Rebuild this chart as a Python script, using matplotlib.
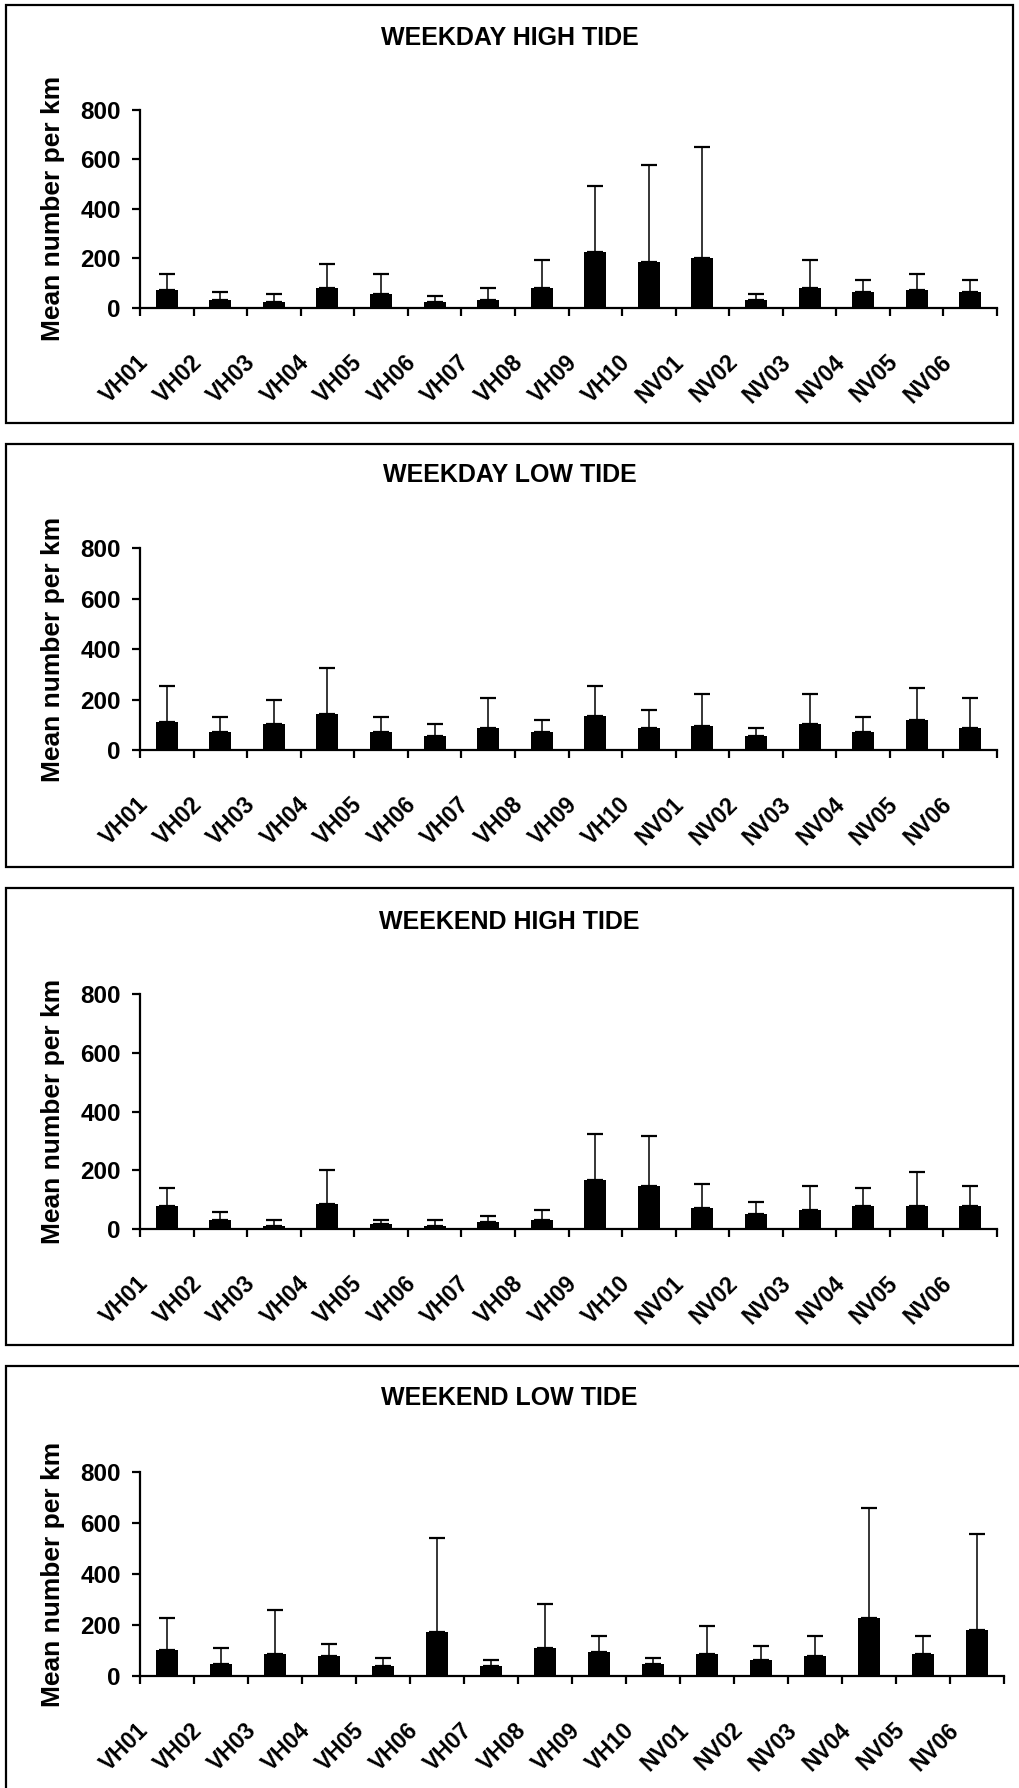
import matplotlib
matplotlib.use("Agg")
import matplotlib.pyplot as plt
import numpy as np
from matplotlib.patches import Rectangle
from matplotlib.transforms import ScaledTranslation

plt.rcParams["font.family"] = ["Liberation Sans", "DejaVu Sans"]
plt.rcParams["font.weight"] = "bold"

SITES = ["VH01", "VH02", "VH03", "VH04", "VH05", "VH06", "VH07", "VH08",
         "VH09", "VH10", "NV01", "NV02", "NV03", "NV04", "NV05", "NV06"]

WEEKDAY_HIGH_MEAN = [70, 30, 22, 78, 54, 22, 30, 78, 224, 184, 200, 30, 78, 62, 70, 62]
WEEKDAY_HIGH_SD = [65, 35, 32, 99, 82, 25, 51, 115, 269, 392, 449, 24, 117, 50, 65, 50]

WEEKDAY_LOW_MEAN = [111, 71, 103, 143, 71, 56, 87, 71, 135, 87, 95, 56, 103, 71, 119, 87]
WEEKDAY_LOW_SD = [144, 59, 97, 184, 59, 48, 121, 49, 120, 73, 128, 33, 120, 59, 128, 121]

WEEKEND_HIGH_MEAN = [79, 32, 11, 86, 18, 11, 25, 32, 168, 147, 73, 52, 66, 79, 79, 79]
WEEKEND_HIGH_SD = [63, 28, 22, 117, 15, 22, 20, 35, 157, 171, 82, 42, 82, 63, 117, 69]

WEEKEND_LOW_MEAN = [101, 46, 85, 77, 38, 172, 38, 109, 93, 46, 85, 62, 77, 227, 85, 180]
WEEKEND_LOW_SD = [126, 63, 175, 49, 32, 370, 25, 174, 64, 24, 112, 55, 80, 434, 72, 377]

YTICKS = [0, 200, 400, 600, 800]

W, H = 1019, 1788

# title, mean, sd, box top, box bottom, box right, y of 800, y of 0, title y, axis right (pixels)
panels = [
    ("WEEKDAY HIGH TIDE", WEEKDAY_HIGH_MEAN, WEEKDAY_HIGH_SD, 5, 423, 1013, 110, 307.7, 38, 997),
    ("WEEKDAY LOW TIDE", WEEKDAY_LOW_MEAN, WEEKDAY_LOW_SD, 444, 867, 1013, 548.3, 750, 475, 997),
    ("WEEKEND HIGH TIDE", WEEKEND_HIGH_MEAN, WEEKEND_HIGH_SD, 888, 1345, 1013, 994, 1229.3, 922, 997),
    ("WEEKEND LOW TIDE", WEEKEND_LOW_MEAN, WEEKEND_LOW_SD, 1366, 1800, 1030, 1472.3, 1675.7, 1398, 1004),
]

fig = plt.figure(figsize=(W / 100, H / 100), dpi=100)

for title, mean, sd, btop, bbot, bright, y800, y0, ty, xr in panels:
    fig.add_artist(Rectangle((6 / W, 1 - bbot / H), (bright - 6) / W, (bbot - btop) / H,
                             transform=fig.transFigure, fill=False, ec="black", lw=1.6))
    fig.text(0.5, 1 - ty / H, title, ha="center", va="center", fontsize=18, fontweight="bold")
    fig.text(53 / W, 1 - (y0 + y800) / 2 / H, "Mean number per km", rotation=90,
             ha="center", va="center", fontsize=19, fontweight="bold")

    ax = fig.add_axes([140 / W, 1 - y0 / H, (xr - 140) / W, (y0 - y800) / H])
    x = np.arange(len(SITES))
    ax.bar(x, mean, width=0.41, color="black")
    ax.errorbar(x, mean, yerr=[np.zeros(len(sd)), sd], fmt="none", ecolor="black",
                elinewidth=1.1, capsize=5.8, capthick=1.6)
    ax.set_xlim(-0.5, len(SITES) - 0.5)
    ax.set_ylim(0, 800)
    ax.spines["top"].set_visible(False)
    ax.spines["right"].set_visible(False)
    ax.spines["left"].set_linewidth(1.6)
    ax.spines["bottom"].set_linewidth(1.6)

    ax.set_yticks(YTICKS)
    ax.tick_params(axis="y", direction="out", length=5.8, width=1.6, pad=8, labelsize=17.5)
    ax.set_xticks(x, SITES)
    ax.set_xticks(np.arange(-0.5, len(SITES), 1), minor=True)
    ax.tick_params(axis="x", which="major", length=0, labelsize=16.5)
    ax.tick_params(axis="x", which="minor", direction="out", length=5.8, width=1.6)
    shift = ScaledTranslation(-0.22, -0.46, fig.dpi_scale_trans)
    for lbl in ax.get_xticklabels():
        lbl.set_rotation(45)
        lbl.set_ha("right")
        lbl.set_va("center")
        lbl.set_rotation_mode("anchor")
        lbl.set_transform(lbl.get_transform() + shift)

fig.savefig("out.png", dpi=100)
